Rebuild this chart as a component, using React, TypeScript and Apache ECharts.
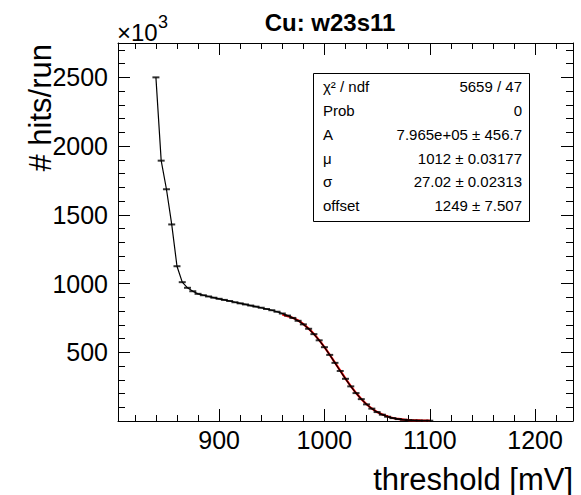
import React, { useEffect, useRef } from 'react';
import * as echarts from 'echarts';

const FONT = '"Liberation Sans", Arial, Helvetica, sans-serif';

const title = 'Cu: w23s11';
const xTitle = 'threshold [mV]';
const yTitle = '# hits/run';

const xRange = [804, 1236];
const yRange = [0, 2750];

const thresholds = [
  840, 845, 850, 855, 860, 865, 870, 875, 880, 885, 890, 895, 900, 905, 910, 915, 920, 925,
  930, 935, 940, 945, 950, 955, 960, 965, 970, 975, 980, 985, 990, 995, 1000, 1005, 1010,
  1015, 1020, 1025, 1030, 1035, 1040, 1045, 1050, 1055, 1060, 1065, 1070, 1075, 1080, 1085,
  1090, 1095, 1100,
];
const hitsPerRun = [
  2500, 1894, 1686, 1430, 1126, 1010, 969, 944, 925, 915, 906, 897, 889, 881, 873, 864, 856, 848,
  840, 832, 824, 815, 806, 795, 782, 767, 750, 729, 703, 671, 632, 587, 537, 481, 423,
  364, 307, 252, 203, 159, 121, 90, 65, 46, 31, 21, 14, 9, 6, 4,
  3, 2, 2,
];

const fitThresholds = [
  960, 965, 970, 975, 980, 985, 990, 995, 1000, 1005, 1010, 1015, 1020, 1025, 1030, 1035,
  1040, 1045, 1050, 1055, 1060, 1065, 1070, 1075, 1080, 1085, 1090, 1095, 1100,
];
const fitValues = [
  776, 763, 750, 731, 705, 672, 633, 588, 537, 482, 424, 366, 308, 254, 204, 160,
  122, 91, 66, 47, 33, 22, 15, 10, 7, 5, 4, 3, 3,
];

const statsLabels = ['χ² / ndf', 'Prob', 'A', 'μ', 'σ', 'offset'];
const statsValues = [
  '5659 / 47',
  '0',
  '7.965e+05 ± 456.7',
  '1012 ± 0.03177',
  '27.02 ± 0.02313',
  '1249 ± 7.507',
];

export default function App() {
  const ref = useRef<HTMLDivElement>(null);

  useEffect(() => {
    if (!ref.current) return;
    const chart = echarts.init(ref.current, null, { renderer: 'svg' });
    const black = '#000';

    const mkX = (position: string, major: boolean) => ({
      type: 'value',
      min: xRange[0],
      max: xRange[1],
      position,
      splitNumber: major ? 5 : 22,
      axisLine: { show: major, onZero: false, lineStyle: { color: black, width: 1 } },
      axisTick: {
        show: true,
        inside: true,
        length: major ? 12 : 6,
        lineStyle: { color: black, width: 1 },
      },
      axisLabel: {
        show: major && position === 'bottom',
        fontSize: 25,
        color: black,
        fontFamily: FONT,
        margin: 6,
        showMinLabel: false,
        showMaxLabel: false,
        formatter: (v: number) => String(v),
      },
      splitLine: { show: false },
    });

    const mkY = (position: string, major: boolean) => ({
      type: 'value',
      min: yRange[0],
      max: yRange[1],
      position,
      splitNumber: major ? 5 : 28,
      axisLine: { show: major, onZero: false, lineStyle: { color: black, width: 1 } },
      axisTick: {
        show: true,
        inside: true,
        length: major ? 12 : 7,
        lineStyle: { color: black, width: 1 },
      },
      axisLabel: {
        show: major && position === 'left',
        fontSize: 25,
        color: black,
        fontFamily: FONT,
        margin: 10,
        showMinLabel: false,
        showMaxLabel: false,
        formatter: (v: number) => String(v),
      },
      splitLine: { show: false },
    });

    const dataPoints = thresholds.map((x, i) => [x, hitsPerRun[i]]);
    const fitPoints = fitThresholds.map((x, i) => [x, fitValues[i]]);

    const rowY = [86, 110, 134, 158, 181.5, 205];
    const statsGraphics: any[] = [
      {
        type: 'rect',
        shape: { x: 313.5, y: 73.5, width: 216, height: 148 },
        style: { fill: '#fff', stroke: black, lineWidth: 1 },
        z: 10,
      },
    ];
    statsLabels.forEach((lab, i) => {
      statsGraphics.push({
        type: 'text',
        x: 323,
        y: rowY[i],
        z: 11,
        style: {
          text: lab,
          fontSize: 15,
          fontFamily: FONT,
          fill: black,
          align: 'left',
          verticalAlign: 'middle',
        },
      });
      statsGraphics.push({
        type: 'text',
        x: 522,
        y: rowY[i],
        z: 11,
        style: {
          text: statsValues[i],
          fontSize: 15,
          fontFamily: FONT,
          fill: black,
          align: 'right',
          verticalAlign: 'middle',
        },
      });
    });

    chart.setOption({
      animation: false,
      backgroundColor: '#fff',
      grid: { left: 118, top: 43, right: 8, bottom: 74, containLabel: false },
      xAxis: [mkX('bottom', true), mkX('bottom', false), mkX('top', true), mkX('top', false)],
      yAxis: [mkY('left', true), mkY('left', false), mkY('right', true), mkY('right', false)],
      series: [
        {
          type: 'line',
          name: 'fit',
          xAxisIndex: 0,
          yAxisIndex: 0,
          data: fitPoints,
          smooth: true,
          showSymbol: false,
          lineStyle: { color: '#ff0000', width: 2.2 },
          z: 2,
        },
        {
          type: 'line',
          name: 'data',
          xAxisIndex: 0,
          yAxisIndex: 0,
          data: dataPoints,
          showSymbol: false,
          lineStyle: { color: black, width: 1.2 },
          z: 3,
        },
        {
          type: 'scatter',
          name: 'points',
          xAxisIndex: 0,
          yAxisIndex: 0,
          data: dataPoints,
          symbol: 'rect',
          symbolSize: [7, 2],
          itemStyle: { color: black },
          z: 4,
        },
      ],
      graphic: [
        {
          type: 'text',
          x: 330,
          y: 22,
          style: {
            text: title,
            fontSize: 24,
            fontWeight: 'bold',
            fontFamily: FONT,
            fill: black,
            align: 'center',
            verticalAlign: 'middle',
          },
        },
        {
          type: 'text',
          x: 117,
          y: 32.5,
          style: {
            text: '×10',
            fontSize: 24,
            fontFamily: FONT,
            fill: black,
            align: 'left',
            verticalAlign: 'middle',
          },
        },
        {
          type: 'text',
          x: 158,
          y: 21.5,
          style: {
            text: '3',
            fontSize: 18,
            fontFamily: FONT,
            fill: black,
            align: 'left',
            verticalAlign: 'middle',
          },
        },
        {
          type: 'text',
          x: 40,
          y: 44,
          rotation: Math.PI / 2,
          style: {
            text: yTitle,
            fontSize: 31,
            fontFamily: FONT,
            fill: black,
            align: 'right',
            verticalAlign: 'middle',
          },
        },
        {
          type: 'text',
          x: 573,
          y: 479,
          style: {
            text: xTitle,
            fontSize: 31,
            fontFamily: FONT,
            fill: black,
            align: 'right',
            verticalAlign: 'middle',
          },
        },
        ...statsGraphics,
      ],
    });

    return () => chart.dispose();
  }, []);

  return (
    <div
      ref={ref}
      style={{ position: 'fixed', left: 0, top: 0, width: 581, height: 495, background: '#fff' }}
    />
  );
}
